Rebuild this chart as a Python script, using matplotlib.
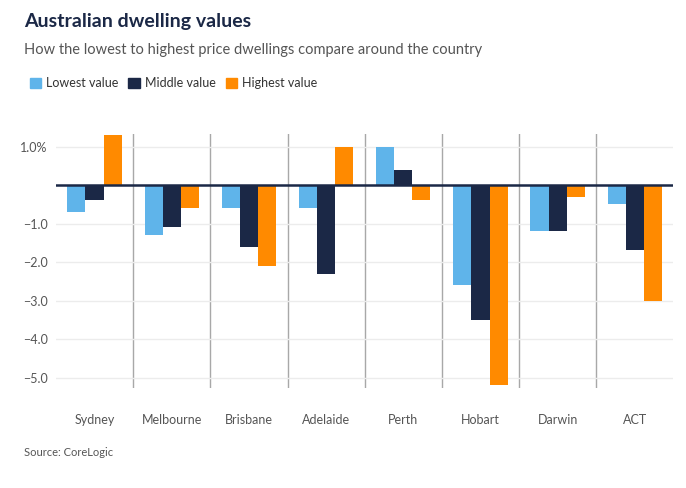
import matplotlib.pyplot as plt
import numpy as np
from matplotlib.patches import Patch

plt.rcParams['font.family'] = ['Lato', 'DejaVu Sans']

cities = ['Sydney', 'Melbourne', 'Brisbane', 'Adelaide', 'Perth', 'Hobart', 'Darwin', 'ACT']
lowest = [-0.7, -1.3, -0.6, -0.6, 1.0, -2.6, -1.2, -0.5]
middle = [-0.4, -1.1, -1.6, -2.3, 0.4, -3.5, -1.2, -1.7]
highest = [1.3, -0.6, -2.1, 1.0, -0.4, -5.2, -0.3, -3.0]
series_names = ['Lowest value', 'Middle value', 'Highest value']
colors = ['#5fb4ea', '#1b2846', '#ff8a00']
yticks = [1, -1, -2, -3, -4, -5]
ytick_labels = ['1.0%', '\u22121.0', '\u22122.0', '\u22123.0', '\u22124.0', '\u22125.0']

fig = plt.figure(figsize=(6.86, 4.88), dpi=100)
ax = fig.add_axes([0.0816, 0.205, 0.9, 0.52])

x = np.arange(len(cities))
w = 0.235
for i, (vals, c) in enumerate(zip([lowest, middle, highest], colors)):
    ax.bar(x + (i - 1) * w, vals, width=w, color=c, zorder=3)

# separators between cities
for s in np.arange(0.5, len(cities) - 1, 1.0):
    ax.axvline(s, color='#a8a8a8', lw=1, zorder=1)
ax.axhline(0, color='#1b2846', lw=1.8, zorder=4)

ax.set_xlim(-0.5, len(cities) - 0.5)
ax.set_ylim(-5.27, 1.32)
ax.set_yticks(yticks)
ax.set_yticklabels(ytick_labels)
ax.yaxis.grid(True, color='#ececec', lw=1, zorder=0)
ax.set_xticks(x)
ax.set_xticklabels(cities)
ax.tick_params(axis='x', length=0, pad=19, labelsize=9, labelcolor='#555555')
ax.tick_params(axis='y', length=0, pad=6, labelsize=9, labelcolor='#555555')
for sp in ax.spines.values():
    sp.set_visible(False)

fig.text(0.035, 0.955, 'Australian dwelling values', fontsize=14, fontweight='bold',
         color='#1b2846', va='center')
fig.text(0.035, 0.897, 'How the lowest to highest price dwellings compare around the country',
         fontsize=10.5, color='#555555', va='center')

handles = [Patch(color=c, label=n) for c, n in zip(colors, series_names)]
fig.legend(handles=handles, loc='center left', bbox_to_anchor=(0.027, 0.829), ncol=3,
           frameon=False, handlelength=0.9, handleheight=0.9, handletextpad=0.4,
           columnspacing=0.8, fontsize=9, labelcolor='#333333')

fig.text(0.035, 0.072, 'Source: CoreLogic', fontsize=8, color='#555555', va='center')

fig.savefig('out.png', dpi=100)
